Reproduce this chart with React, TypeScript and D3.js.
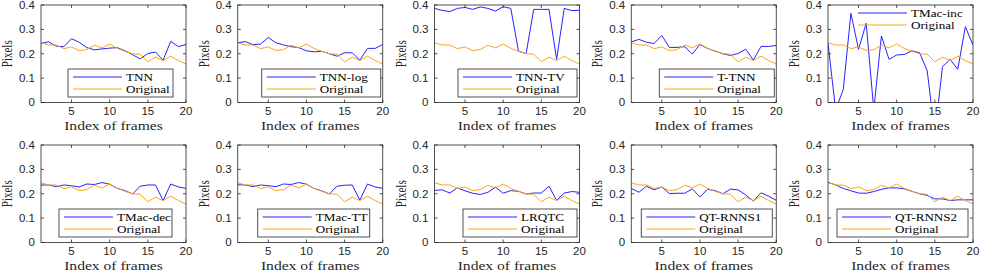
import React, { useEffect, useRef } from 'react';
import * as d3 from 'd3';

// x categories and tick labels
const frames = [1, 2, 3, 4, 5, 6, 7, 8, 9, 10, 11, 12, 13, 14, 15, 16, 17, 18, 19, 20];
const xTicks = [5, 10, 15, 20];
const yTicks = [0, 0.1, 0.2, 0.3, 0.4];
const yTickLabels = ['0', '0.1', '0.2', '0.3', '0.4'];

// reference curve shared by every panel
const original = [0.245, 0.236, 0.236, 0.221, 0.228, 0.213, 0.217, 0.235, 0.224, 0.240, 0.222, 0.210, 0.200, 0.198, 0.167, 0.186, 0.172, 0.190, 0.172, 0.158];

// method curves
const tnn = [0.242, 0.249, 0.231, 0.229, 0.262, 0.247, 0.225, 0.216, 0.220, 0.223, 0.225, 0.212, 0.196, 0.179, 0.201, 0.207, 0.174, 0.251, 0.229, 0.238];
const tnnLog = [0.245, 0.250, 0.237, 0.240, 0.267, 0.245, 0.236, 0.229, 0.225, 0.212, 0.208, 0.210, 0.200, 0.190, 0.204, 0.204, 0.174, 0.222, 0.222, 0.238];
const tnnTv = [0.386, 0.378, 0.373, 0.386, 0.390, 0.382, 0.392, 0.386, 0.375, 0.393, 0.386, 0.211, 0.200, 0.382, 0.382, 0.382, 0.177, 0.386, 0.377, 0.378];
const tTnn = [0.248, 0.259, 0.247, 0.242, 0.275, 0.226, 0.226, 0.229, 0.199, 0.238, 0.222, 0.211, 0.200, 0.193, 0.201, 0.219, 0.174, 0.230, 0.230, 0.234];
const tmacInc = [0.242, -0.03, 0.053, 0.366, 0.218, 0.325, -0.03, 0.273, 0.177, 0.195, 0.197, 0.212, 0.204, 0.130, -0.13, 0.147, 0.177, 0.136, 0.311, 0.236];
const tmacDec = [0.236, 0.236, 0.229, 0.236, 0.233, 0.228, 0.240, 0.238, 0.246, 0.239, 0.222, 0.213, 0.199, 0.231, 0.236, 0.236, 0.172, 0.240, 0.228, 0.222];
const tmacTt = [0.237, 0.236, 0.229, 0.236, 0.233, 0.229, 0.240, 0.238, 0.246, 0.239, 0.222, 0.212, 0.199, 0.231, 0.235, 0.236, 0.174, 0.240, 0.228, 0.222];
const lrqtc = [0.214, 0.216, 0.203, 0.224, 0.212, 0.202, 0.197, 0.206, 0.227, 0.202, 0.213, 0.210, 0.199, 0.203, 0.203, 0.231, 0.173, 0.203, 0.209, 0.206];
const qtRnns1 = [0.222, 0.206, 0.231, 0.216, 0.228, 0.201, 0.202, 0.202, 0.220, 0.187, 0.218, 0.213, 0.200, 0.219, 0.216, 0.195, 0.170, 0.204, 0.190, 0.173];
const qtRnns2 = [0.247, 0.236, 0.222, 0.212, 0.203, 0.202, 0.209, 0.218, 0.224, 0.224, 0.220, 0.210, 0.200, 0.193, 0.179, 0.179, 0.172, 0.175, 0.175, 0.175];

const methods = ['TNN', 'TNN-log', 'TNN-TV', 'T-TNN', 'TMac-inc', 'TMac-dec', 'TMac-TT', 'LRQTC', 'QT-RNNS1', 'QT-RNNS2'];
const methodValues = [tnn, tnnLog, tnnTv, tTnn, tmacInc, tmacDec, tmacTt, lrqtc, qtRnns1, qtRnns2];

// legend placement per panel (offset from plot origin, box width, framed or not)
const legendLayout = [
  { dx: 27, dy: 64, w: 105, framed: true },
  { dx: 24, dy: 64, w: 119, framed: true },
  { dx: 23.5, dy: 64, w: 119, framed: true },
  { dx: 28, dy: 64, w: 115, framed: true },
  { dx: 25, dy: 0, w: 120, framed: false },
  { dx: 18, dy: 64, w: 113, framed: true },
  { dx: 20, dy: 64, w: 112, framed: true },
  { dx: 28.5, dy: 64, w: 114, framed: true },
  { dx: 10, dy: 64, w: 131, framed: true },
  { dx: 9, dy: 64, w: 131, framed: true },
];

const BLUE = '#2424ff';
const ORANGE = '#ffa319';
const AXIS = '#262626';
const SERIF = "'Liberation Serif', 'Times New Roman', serif";
const SANS = "'Liberation Sans', Arial, sans-serif";

const App = () => {
  const ref = useRef<SVGSVGElement>(null);

  useEffect(() => {
    if (!ref.current) return;
    const svg = d3.select(ref.current);
    svg.selectAll('*').remove();

    const plotW = 145;
    const plotH = 97.5;
    const colLeft = (c: number) => 41 + c * 196.75;
    const rowTop = [5, 145];

    methods.forEach((name, p) => {
      const r = Math.floor(p / 5);
      const c = p % 5;
      const g = svg.append('g').attr('transform', `translate(${colLeft(c)},${rowTop[r]})`);

      const x = d3.scaleLinear().domain([1, 20]).range([0, plotW]);
      const y = d3.scaleLinear().domain([0, 0.4]).range([plotH, 0]);

      const clipId = `clip-${p}`;
      g.append('clipPath').attr('id', clipId)
        .append('rect').attr('width', plotW).attr('height', plotH);

      const line = d3.line<number>()
        .x((d, i) => x(frames[i]))
        .y(d => y(d));

      // method first, original on top (plot order)
      g.append('path')
        .attr('clip-path', `url(#${clipId})`)
        .attr('d', line(methodValues[p]))
        .attr('fill', 'none')
        .attr('stroke', BLUE)
        .attr('stroke-width', 1);

      g.append('path')
        .attr('clip-path', `url(#${clipId})`)
        .attr('d', line(original))
        .attr('fill', 'none')
        .attr('stroke', ORANGE)
        .attr('stroke-width', 1);

      // box + inward ticks
      g.append('rect')
        .attr('width', plotW).attr('height', plotH)
        .attr('fill', 'none').attr('stroke', AXIS).attr('stroke-width', 0.8);

      xTicks.forEach(t => {
        g.append('line').attr('x1', x(t)).attr('x2', x(t)).attr('y1', plotH).attr('y2', plotH - 3)
          .attr('stroke', AXIS).attr('stroke-width', 0.8);
        g.append('line').attr('x1', x(t)).attr('x2', x(t)).attr('y1', 0).attr('y2', 3)
          .attr('stroke', AXIS).attr('stroke-width', 0.8);
        g.append('text')
          .attr('transform', `translate(${x(t)},${plotH + 12}) scale(1.1,1)`)
          .attr('text-anchor', 'middle')
          .attr('font-family', SANS).attr('font-size', 10.5).attr('fill', AXIS)
          .text(t);
      });

      yTicks.forEach((t, i) => {
        g.append('line').attr('x1', 0).attr('x2', 3).attr('y1', y(t)).attr('y2', y(t))
          .attr('stroke', AXIS).attr('stroke-width', 0.8);
        g.append('line').attr('x1', plotW).attr('x2', plotW - 3).attr('y1', y(t)).attr('y2', y(t))
          .attr('stroke', AXIS).attr('stroke-width', 0.8);
        g.append('text')
          .attr('transform', `translate(-6,${y(t)}) scale(1.1,1)`)
          .attr('text-anchor', 'end').attr('dy', '0.36em')
          .attr('font-family', SANS).attr('font-size', 10.5).attr('fill', AXIS)
          .text(yTickLabels[i]);
      });

      // axis titles
      g.append('text')
        .attr('transform', `translate(${plotW / 2},${plotH + 27}) scale(1.3,1)`)
        .attr('text-anchor', 'middle')
        .attr('font-family', SERIF).attr('font-size', 12).attr('fill', AXIS)
        .text('Index of frames');

      g.append('text')
        .attr('transform', `translate(-29,${plotH / 2}) scale(1.3,1) rotate(-90)`)
        .attr('text-anchor', 'middle')
        .attr('font-family', SERIF).attr('font-size', 11).attr('fill', AXIS)
        .text('Pixels');

      // legend
      const lg = legendLayout[p];
      const leg = g.append('g').attr('transform', `translate(${lg.dx},${lg.dy})`);
      if (lg.framed) {
        leg.append('rect')
          .attr('width', lg.w).attr('height', 28)
          .attr('fill', '#fff').attr('stroke', AXIS).attr('stroke-width', 0.8);
      }
      [[name, BLUE, 8], ['Original', ORANGE, 20]].forEach(([label, color, ly]) => {
        leg.append('line')
          .attr('x1', 5).attr('x2', 54).attr('y1', ly as number).attr('y2', ly as number)
          .attr('stroke', color as string).attr('stroke-width', 1);
        leg.append('text')
          .attr('transform', `translate(58,${ly}) scale(1.25,1)`)
          .attr('dy', '0.34em')
          .attr('font-family', SERIF).attr('font-size', 10.5).attr('fill', '#000')
          .text(label as string);
      });
    });
  }, []);

  return (
    <svg
      ref={ref}
      width={981}
      height={273}
      style={{ position: 'absolute', left: 0, top: 0, background: '#fff' }}
    />
  );
};

export default App;
